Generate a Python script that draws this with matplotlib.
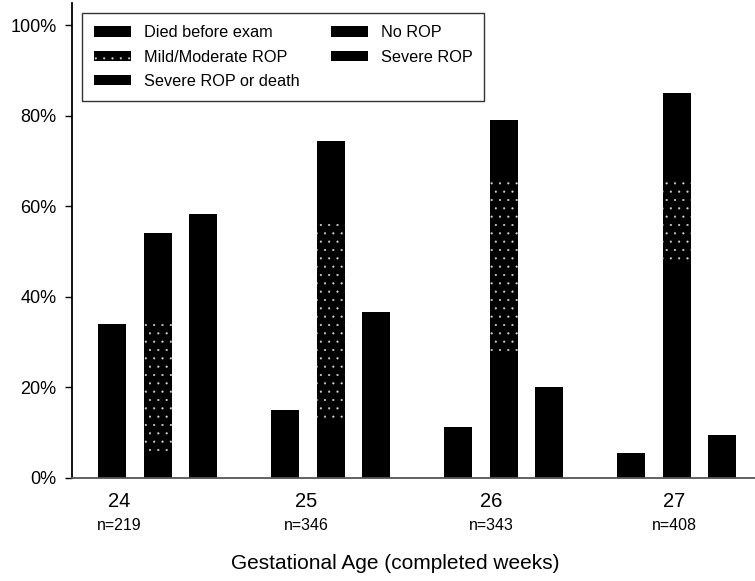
import matplotlib
matplotlib.use("Agg")
import matplotlib.pyplot as plt
import numpy as np

plt.rcParams['font.family'] = ['Liberation Sans', 'DejaVu Sans']
plt.rcParams['hatch.color'] = '#d8d8d8'
plt.rcParams['hatch.linewidth'] = 0.3

# data (percent)
weeks = ['24', '25', '26', '27']
n_labels = ['n=219', 'n=346', 'n=343', 'n=408']
died_before_exam = [34.0, 15.0, 11.3, 5.6]
no_rop = [6.0, 13.0, 28.0, 48.0]
mild_moderate = [29.0, 44.5, 38.0, 18.5]
severe_rop = [19.0, 17.0, 13.0, 18.5]
severe_or_death = [58.2, 36.6, 20.2, 9.6]

x = np.arange(len(weeks))
w = 0.162
off = 0.263
# the week labels drift relative to the bar groups in the original
label_shift = np.array([-0.224, -0.14, -0.072, -0.017])

fig = plt.figure(figsize=(7.55, 5.81), dpi=100)
ax = fig.add_axes([72 / 755, 1 - 478 / 581, 1 - 72 / 755, 475 / 581])

ax.bar(x - off, died_before_exam, w, color='black', label='Died before exam')
mm_bottom = np.array(no_rop)
sev_bottom = mm_bottom + np.array(mild_moderate)
ax.bar(x, no_rop, w, color='black', label='No ROP')
ax.bar(x, mild_moderate, w, bottom=mm_bottom, color='black', hatch='..',
       label='Mild/Moderate ROP')
ax.bar(x, severe_rop, w, bottom=sev_bottom, color='black', label='Severe ROP')
ax.bar(x + off, severe_or_death, w, color='black', label='Severe ROP or death')

ax.set_xlim(-0.495, 3.451)
ax.set_ylim(0, 104.9)
ax.set_yticks([0, 20, 40, 60, 80, 100])
ax.set_yticklabels(['0%', '20%', '40%', '60%', '80%', '100%'], fontsize=13)
ax.tick_params(axis='y', direction='out', length=5, width=1, pad=6)

ax.set_xticks(x + label_shift)
ax.set_xticklabels(weeks, fontsize=14.5)
ax.tick_params(axis='x', length=0, pad=10)
for xi, lab in zip(x + label_shift, n_labels):
    ax.text(xi, -0.1, lab, transform=ax.get_xaxis_transform(),
            ha='center', va='center', fontsize=11.5)

ax.set_xlabel('Gestational Age (completed weeks)', fontsize=15)
ax.xaxis.set_label_coords(0.473, -0.16)

for s in ['top', 'right']:
    ax.spines[s].set_visible(False)
ax.spines['left'].set_linewidth(1.3)
ax.spines['bottom'].set_color('#555555')
ax.spines['bottom'].set_linewidth(1.3)

handles, labels = ax.get_legend_handles_labels()
order = [0, 2, 4, 1, 3]
leg = ax.legend([handles[i] for i in order], [labels[i] for i in order],
                ncol=2, loc='upper left', bbox_to_anchor=(0.0145, 0.979),
                fontsize=11.7, frameon=True, fancybox=False, edgecolor='black',
                handlelength=2.3, handleheight=0.6, handletextpad=0.75,
                columnspacing=1.95, borderpad=0.75, labelspacing=0.58,
                borderaxespad=0)
leg.get_frame().set_linewidth(1.0)

fig.savefig('out.png', dpi=100)
